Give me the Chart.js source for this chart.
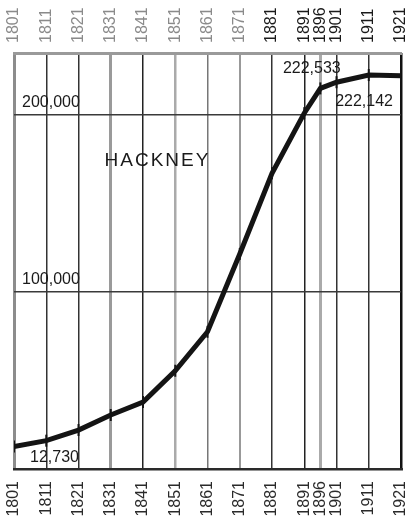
<!DOCTYPE html>
<html>
<head>
<meta charset="utf-8">
<title>Hackney 1801-1921</title>
<script src="https://cdn.jsdelivr.net/npm/chart.js@4.4.1/dist/chart.umd.min.js"></script>
<style>
  html, body { margin: 0; padding: 0; background: #fff; }
  #chart { display: block; }
</style>
</head>
<body>
<canvas id="chart" width="412" height="518"></canvas>
<script>
// census years, used for both rows of labels
var years = [1801, 1811, 1821, 1831, 1841, 1851, 1861, 1871, 1881, 1891, 1896, 1901, 1911, 1921];
// population at each census (labelled ones exact)
var population = [12730, 16000, 22000, 30500, 37800, 55500, 77500, 121500, 167000, 201000, 215000, 218500, 222533, 222142];
// horizontal guide lines
var popTicks = [0, 100000, 200000];
var popLabels = ["", "100,000", "200,000"];

var points = years.map(function (yr, i) {
  return { x: yr, y: population[i] };
});

// colour / width of the vertical year lines (grey ones are faded in the print)
var yearLine = {
  1801: ["#8c8c8c", 3],
  1811: ["#333", 1.5],
  1821: ["#333", 1.5],
  1831: ["#9a9a9a", 3],
  1841: ["#222", 1.5],
  1851: ["#aaa", 2.5],
  1861: ["#777", 1.5],
  1871: ["#999", 2],
  1881: ["#333", 1.5],
  1891: ["#222", 1.5],
  1896: ["#aaa", 3],
  1901: ["#333", 1.5],
  1911: ["#333", 1.5],
  1921: ["#111", 2.5]
};

var FONT = "'Liberation Sans', Arial, sans-serif";
var LABEL_SIZE = 16;

function fmt(n) {
  return n.toLocaleString("en-US");
}

function setYearTicks(scale) {
  scale.ticks = years.map(function (v) { return { value: v }; });
}

// rotated labels ask for side padding, the frame must run edge to edge
function noSidePadding(scale) {
  scale.paddingLeft = 0;
  scale.paddingRight = 0;
}

// text written inside the plot
var notes = {
  id: "notes",
  afterDatasetsDraw: function (chart) {
    var c = chart.ctx;
    var x = chart.scales.x, y = chart.scales.y;
    var last = years.length - 1;
    c.save();
    c.fillStyle = "#1a1a1a";
    c.textBaseline = "middle";
    c.font = LABEL_SIZE + "px " + FONT;

    c.textAlign = "left";
    c.fillText(fmt(population[0]), x.getPixelForValue(years[0]) + 16, y.getPixelForValue(population[0]) + 11);

    c.textAlign = "right";
    c.fillText(fmt(population[last - 1]), x.getPixelForValue(years[last - 1]) - 28, y.getPixelForValue(population[last - 1]) - 6);
    c.fillText(fmt(population[last]), x.getPixelForValue(years[last]) - 8, y.getPixelForValue(population[last]) + 26);

    c.textAlign = "center";
    c.font = "19px " + FONT;
    if ("letterSpacing" in c) c.letterSpacing = "2px";
    c.fillText("HACKNEY", x.getPixelForValue(1845.5), y.getPixelForValue(174000));
    c.restore();
  }
};

var ctx = document.getElementById("chart").getContext("2d");
var chart = new Chart(ctx, {
  type: "line",
  data: {
    datasets: [
      {
        label: "Hackney",
        data: points,
        xAxisID: "x",
        yAxisID: "y",
        borderColor: "#141414",
        borderWidth: 5,
        tension: 0,
        pointStyle: "line",
        pointRotation: 90,
        pointRadius: 6,
        pointBorderWidth: 2,
        pointBorderColor: "#141414",
        pointBackgroundColor: "#141414"
      }
    ]
  },
  options: {
    responsive: false,
    animation: false,
    layout: {
      padding: { left: 14, right: 11, top: 0, bottom: 0 }
    },
    plugins: {
      legend: { display: false },
      tooltip: { enabled: false }
    },
    scales: {
      x: {
        type: "linear",
        position: "bottom",
        min: 1801,
        max: 1921,
        afterBuildTicks: setYearTicks,
        afterFit: function (s) { s.height = 49; noSidePadding(s); },
        border: { display: true, color: "#2a2a2a", width: 2.5 },
        grid: {
          drawTicks: false,
          color: function (c) { return (yearLine[c.tick && c.tick.value] || ["#333"])[0]; },
          lineWidth: function (c) { return (yearLine[c.tick && c.tick.value] || [0, 1.5])[1]; }
        },
        ticks: {
          autoSkip: false,
          minRotation: 90,
          maxRotation: 90,
          padding: 12,
          color: "#2a2a2a",
          font: { family: FONT, size: LABEL_SIZE },
          callback: function (v) { return String(v); }
        }
      },
      x2: {
        type: "linear",
        position: "top",
        min: 1801,
        max: 1921,
        afterBuildTicks: setYearTicks,
        afterFit: function (s) { s.height = 53; noSidePadding(s); },
        border: { display: true, color: "#9a9a9a", width: 3 },
        grid: { display: false, drawTicks: false },
        ticks: {
          autoSkip: false,
          minRotation: 90,
          maxRotation: 90,
          padding: 10,
          // Chart.js pushes rotated top labels one line-height to the left
          labelOffset: LABEL_SIZE * 1.2,
          color: function (c) { return c.tick && c.tick.value >= 1881 ? "#1a1a1a" : "#8a8a8a"; },
          font: { family: FONT, size: LABEL_SIZE },
          callback: function (v) { return String(v); }
        }
      },
      y: {
        min: 0,
        max: 235000,
        afterBuildTicks: function (s) {
          s.ticks = popTicks.map(function (v) { return { value: v }; });
        },
        afterFit: function (s) { s.width = 0; },
        border: { display: false },
        grid: { color: "#3a3a3a", lineWidth: 1.5, drawTicks: false },
        ticks: {
          mirror: true,
          padding: 8,
          labelOffset: -12,
          color: "#1a1a1a",
          font: { family: FONT, size: LABEL_SIZE },
          callback: function (v) { return popLabels[popTicks.indexOf(v)]; }
        }
      }
    }
  },
  plugins: [notes]
});
</script>
</body>
</html>
